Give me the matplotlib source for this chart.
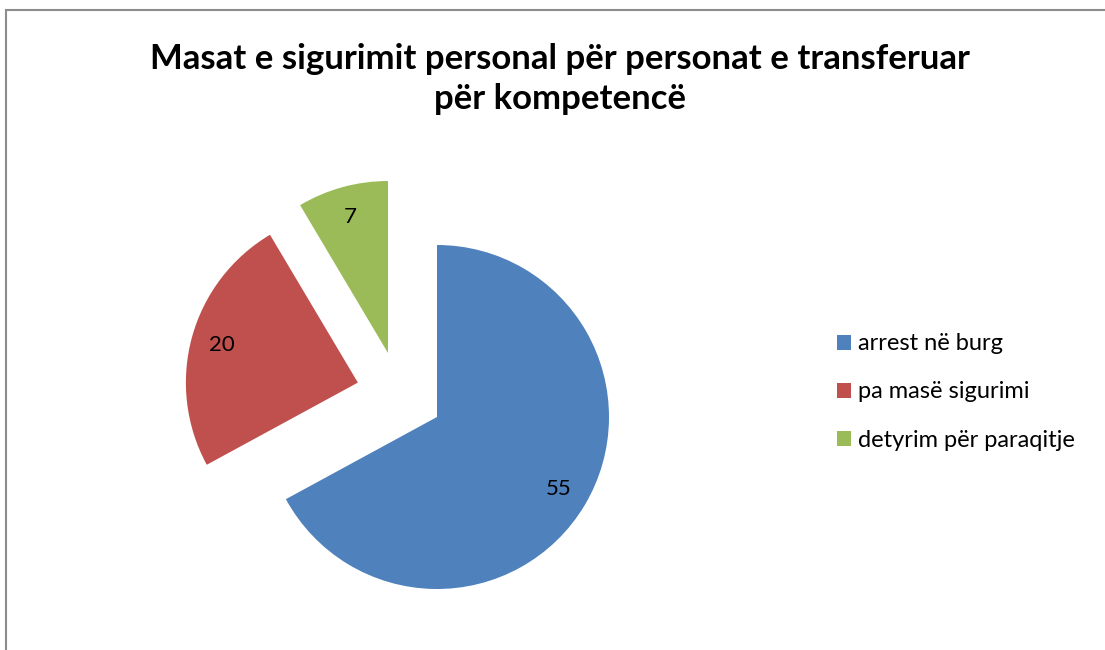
import numpy as np
import matplotlib.pyplot as plt
from matplotlib.patches import Rectangle

# data
labels = ["arrest në burg", "pa masë sigurimi", "detyrim për paraqitje"]
values = [55, 20, 7]
colors = ["#4F81BD", "#C0504D", "#9BBB59"]
title = "Masat e sigurimit personal për personat e transferuar\npër kompetencë"

# how far each slice is pulled out (in radius units)
shifts = [(0.0, 0.0), (-0.46, 0.20), (-0.285, 0.372)]

plt.rcParams['font.family'] = ['Lato', 'DejaVu Sans']

fig = plt.figure(figsize=(11.05, 6.5), dpi=100)
ax = fig.add_axes([0.0, 0.0, 1.0, 1.0])

# pie, clockwise from the top
wedges, texts = ax.pie(values, colors=colors, startangle=90, counterclock=False,
                       labels=[str(v) for v in values], labeldistance=0.82,
                       textprops={'fontsize': 16, 'color': 'black'},
                       wedgeprops={'linewidth': 0})
for w, t, (dx, dy) in zip(wedges, texts, shifts):
    w.set_center((dx, dy))
    x, y = t.get_position()
    t.set_position((x + dx, y + dy))
    t.set_ha('center')
    t.set_va('center')

# place the unit pie in pixel space: center (437, 417), radius 172
W, H = 1105, 650
cx, cy, r = 437, 417, 172
ax.set_xlim(-cx / r, (W - cx) / r)
ax.set_ylim(-(H - cy) / r, cy / r)
ax.set_aspect('auto')
ax.axis('off')

fig.text(560 / W, 1 - 79 / H, title, ha='center', va='center',
         fontsize=25, fontweight='bold', linespacing=1.3)

leg = fig.legend(wedges, labels, loc='center left', bbox_to_anchor=(816 / W, 1 - 392 / H),
                 frameon=False, fontsize=17, handlelength=0.6, handleheight=0.6,
                 handletextpad=0.3, labelspacing=1.15)

# chart frame (left and top edges visible)
fig.patches.append(Rectangle((6 / W, -0.1), 1.2, 1 - 10 / H + 0.1, transform=fig.transFigure,
                             fill=False, edgecolor='#8c8c8c', linewidth=1.5))

fig.savefig("out.png", dpi=100)
